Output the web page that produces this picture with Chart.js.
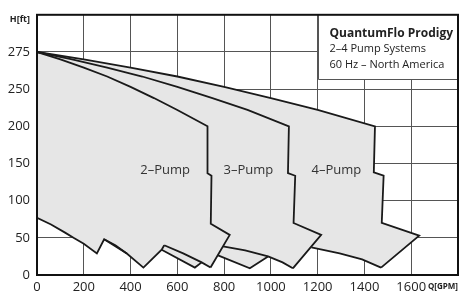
<!DOCTYPE html>
<html>
<head>
    <title>QuantumFlo Prodigy - 2-4 Pump Systems</title>
    <script src="https://cdn.jsdelivr.net/npm/chart.js"></script>
    <style>
        body {
            margin: 0;
            background: #ffffff;
        }
        #chartContainer {
            width: 462px;
            height: 298px;
        }
    </style>
</head>
<body>
    <div id="chartContainer">
        <canvas id="myChart" width="462" height="298"></canvas>
    </div>

    <script>
        // Axis ticks (the plotted 300 line is labelled 275 in the original)
        const xTickLabels = ['0', '200', '400', '600', '800', '1000', '1200', '1400', '1600', ''];
        const yTickLabels = ['0', '50', '100', '150', '200', '250', '275', ''];

        // Max speed curves, Q [GPM] / H
        const top2Q = [0, 100, 200, 300, 400, 500, 600, 729];
        const top2H = [300, 290, 279, 267, 253, 238, 222, 200];
        const top3Q = [0, 150, 300, 450, 600, 750, 900, 1077];
        const top3H = [300, 290, 279, 267, 253, 238, 222, 200];
        const top4Q = [0, 200, 400, 600, 800, 1000, 1200, 1445];
        const top4H = [300, 290, 279, 267, 253, 238, 222, 200];

        // Right hand limits (power / NPSH)
        const edge2Q = [729, 729, 746, 743, 824, 742];
        const edge2H = [200, 137, 133.5, 69, 54, 10];
        const edge3Q = [1077, 1073, 1104, 1097, 1215, 1094];
        const edge3H = [200, 137, 133.5, 70, 54, 9];
        const edge4Q = [1445, 1440, 1482, 1474, 1634, 1471];
        const edge4H = [200, 138, 133.5, 70, 53, 10];

        // Min speed curves
        const min2Q = [544, 625, 704, 742];
        const min2H = [40, 29, 17, 10];
        const min3Q = [795, 890, 988, 1050, 1094];
        const min3H = [38.5, 33, 25, 17, 9];
        const min4Q = [1173, 1294, 1390, 1471];
        const min4H = [37, 29, 21, 10];

        // Lower sawtooth at the left and the small transition lines
        const baseQ = [0, 60, 120, 156, 200, 256, 287, 384, 455, 533, 544];
        const baseH = [77, 68, 57, 50, 42, 29, 48, 29, 10, 34, 40];
        const lensQ = [287, 335, 384];
        const lensH = [48, 40, 29];
        const mini1Q = [533, 675, 704];
        const mini1H = [34, 10, 17];
        const mini2Q = [774, 910, 988];
        const mini2H = [26.5, 9, 25];

        // Region labels
        const pumpLabels = ['2\u2013Pump', '3\u2013Pump', '4\u2013Pump'];
        const labelQ = [548, 904, 1280];
        const labelH = [141.5, 141.5, 141.5];

        function pts(qs, hs) {
            return qs.map((q, i) => ({ x: q, y: hs[i] }));
        }

        // outline of the whole operating area, walked clockwise
        const rev = (arr, from, to) => arr.slice(to, from + 1).reverse();
        const areaQ = [].concat(
            top4Q, edge4Q.slice(1), rev(min4Q, 2, 0), [edge3Q[5]],
            rev(min3Q, 3, 2), rev(mini2Q, 1, 0), [edge2Q[5]], [min2Q[2]],
            rev(mini1Q, 1, 0), rev(baseQ, 8, 0)
        );
        const areaH = [].concat(
            top4H, edge4H.slice(1), rev(min4H, 2, 0), [edge3H[5]],
            rev(min3H, 3, 2), rev(mini2H, 1, 0), [edge2H[5]], [min2H[2]],
            rev(mini1H, 1, 0), rev(baseH, 8, 0)
        );

        function outline(qs, hs) {
            return {
                data: pts(qs, hs),
                borderColor: '#1a1a1a',
                borderWidth: 1.8,
                pointRadius: 0,
                tension: 0,
                fill: false,
                order: 1
            };
        }

        const datasets = [
            {
                data: pts(areaQ, areaH),
                backgroundColor: '#e6e6e6',
                borderWidth: 0,
                pointRadius: 0,
                tension: 0,
                fill: 'shape',
                order: 10
            },
            outline(top2Q.concat(edge2Q.slice(1)), top2H.concat(edge2H.slice(1))),
            outline(top3Q.concat(edge3Q.slice(1)), top3H.concat(edge3H.slice(1))),
            outline(top4Q.concat(edge4Q.slice(1)), top4H.concat(edge4H.slice(1))),
            outline(min2Q, min2H),
            outline(min3Q, min3H),
            outline(min4Q, min4H),
            outline(baseQ, baseH),
            outline(lensQ, lensH),
            outline(mini1Q, mini1H),
            outline(mini2Q, mini2H)
        ];

        // labels, info box, axis units and the frame
        const overlay = {
            id: 'overlay',
            afterDatasetsDraw(chart) {
                const { ctx, chartArea: a, scales: { x, y } } = chart;
                ctx.save();

                ctx.font = '13px "Open Sans"';
                ctx.fillStyle = '#333';
                ctx.textAlign = 'center';
                ctx.textBaseline = 'middle';
                pumpLabels.forEach((t, i) => {
                    ctx.fillText(t, x.getPixelForValue(labelQ[i]), y.getPixelForValue(labelH[i]));
                });

                // info box top right
                const bx = Math.round(x.getPixelForValue(1200)) + 0.5;
                const by = Math.round(y.getPixelForValue(263)) + 0.5;
                ctx.fillStyle = '#ffffff';
                ctx.fillRect(bx, a.top, a.right - bx, by - a.top);
                ctx.strokeStyle = '#555';
                ctx.lineWidth = 1;
                ctx.beginPath();
                ctx.moveTo(bx, a.top);
                ctx.lineTo(bx, by);
                ctx.lineTo(a.right, by);
                ctx.stroke();

                ctx.fillStyle = '#222';
                ctx.textAlign = 'left';
                ctx.font = 'bold 12px "Open Sans"';
                ctx.fillText('QuantumFlo Prodigy', bx + 11, a.top + 19);
                ctx.font = '11px "Open Sans"';
                ctx.fillText('2\u20134 Pump Systems', bx + 11, a.top + 34);
                ctx.fillText('60 Hz \u2013 North America', bx + 11, a.top + 50);

                // axis units
                ctx.textAlign = 'right';
                ctx.font = 'bold 9px "Open Sans"';
                ctx.fillText('H[ft]', a.left - 7, a.top + 5);
                ctx.font = 'bold 8px "Open Sans"';
                ctx.fillText('Q[GPM]', a.right, a.bottom + 12);

                // frame
                ctx.strokeStyle = '#111';
                ctx.lineWidth = 2;
                ctx.strokeRect(a.left, a.top, a.right - a.left, a.bottom - a.top);
                ctx.restore();
            }
        };

        const config = {
            type: 'line',
            data: { datasets: datasets },
            options: {
                responsive: false,
                animation: false,
                layout: {
                    padding: { top: 11, right: 3, left: 0, bottom: 0 }
                },
                plugins: {
                    legend: { display: false },
                    tooltip: { enabled: false }
                },
                scales: {
                    x: {
                        type: 'linear',
                        min: 0,
                        max: 1800,
                        afterFit: (scale) => { scale.height = 23; },
                        ticks: {
                            stepSize: 200,
                            autoSkip: false,
                            maxRotation: 0,
                            padding: 4,
                            color: '#222',
                            font: { family: 'Open Sans', size: 13 },
                            callback: (value, index) => xTickLabels[index]
                        },
                        grid: { color: '#555', lineWidth: 1, drawTicks: false },
                        border: { display: false }
                    },
                    y: {
                        min: 0,
                        max: 350,
                        afterFit: (scale) => { scale.width = 37; },
                        ticks: {
                            stepSize: 50,
                            padding: 7,
                            color: '#222',
                            font: { family: 'Open Sans', size: 13 },
                            callback: (value, index) => yTickLabels[index]
                        },
                        grid: { color: '#555', lineWidth: 1, drawTicks: false },
                        border: { display: false }
                    }
                }
            },
            plugins: [overlay]
        };

        const ctx = document.getElementById('myChart').getContext('2d');
        const myChart = new Chart(ctx, config);
    </script>
</body>
</html>
